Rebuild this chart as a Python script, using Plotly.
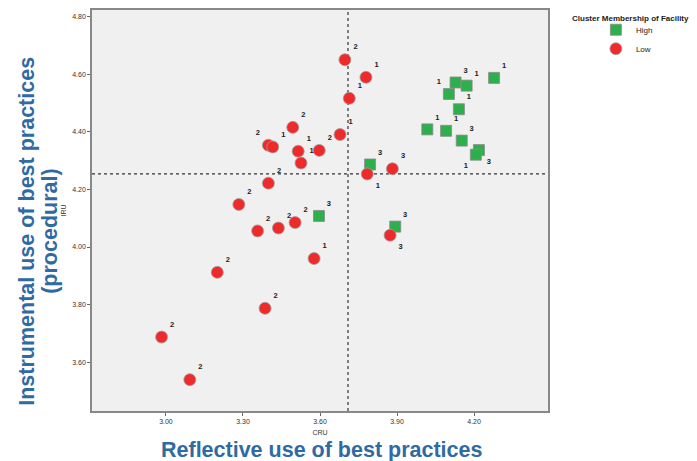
import plotly.graph_objects as go

# High cluster (green squares)
high_cru = [3.795, 3.596, 3.893, 4.278, 4.128, 4.171, 4.102, 4.141, 4.018, 4.091, 4.152, 4.219, 4.207]
high_iru = [4.287, 4.108, 4.071, 4.588, 4.572, 4.561, 4.532, 4.479, 4.409, 4.404, 4.370, 4.337, 4.321]
high_lbl = ["3", "3", "3", "1", "3", "1", "1", "1", "1", "1", "3", "3", "1"]

# Low cluster (red circles)
low_cru = [3.697, 3.779, 3.714, 3.678, 3.494, 3.399, 3.416, 3.515, 3.597, 3.526, 3.399, 3.284,
           3.357, 3.438, 3.503, 3.577, 3.200, 3.386, 2.983, 3.093, 3.784, 3.882, 3.873]
low_iru = [4.651, 4.590, 4.517, 4.391, 4.416, 4.354, 4.348, 4.333, 4.336, 4.292, 4.222, 4.148,
           4.056, 4.066, 4.085, 3.960, 3.912, 3.787, 3.687, 3.539, 4.254, 4.272, 4.041]
low_lbl = ["2", "1", "1", "1", "2", "2", "1", "1", "2", "1", "2", "2",
           "2", "2", "2", "1", "2", "2", "2", "2", "1", "3", "3"]

# reference lines (means)
cru_ref = 3.709
iru_ref = 4.254

x_ticks = [3.00, 3.30, 3.60, 3.90, 4.20]
y_ticks = [3.60, 3.80, 4.00, 4.20, 4.40, 4.60, 4.80]

# label placement (style)
high_pos = ["top right"] * 13
high_pos[6] = "top left"
high_pos[11] = "bottom right"
high_pos[12] = "bottom left"
low_pos = ["top right"] * 23
low_pos[5] = "top left"
low_pos[20] = "bottom right"
low_pos[22] = "bottom right"

FONT = "Liberation Sans, Arial"
lbl_font = dict(family=FONT, size=7.5, color="#222", weight=700)

fig = go.Figure()
fig.add_trace(go.Scatter(
    x=high_cru, y=high_iru, text=high_lbl, mode="markers+text", name="High",
    textposition=high_pos, textfont=lbl_font,
    marker=dict(symbol="square", size=11, color="#2DB04B", line=dict(color="#8a8a8a", width=0.8)),
))
fig.add_trace(go.Scatter(
    x=low_cru, y=low_iru, text=low_lbl, mode="markers+text", name="Low",
    textposition=low_pos, textfont=lbl_font,
    marker=dict(symbol="circle", size=12, color="#EE2A2A", line=dict(color="#a0a0a0", width=0.8)),
))

fig.add_shape(type="line", xref="x", yref="paper", x0=cru_ref, x1=cru_ref, y0=0, y1=1,
              line=dict(color="#333", width=1.2, dash="dot"), layer="below")
fig.add_shape(type="line", xref="paper", yref="y", x0=0, x1=1, y0=iru_ref, y1=iru_ref,
              line=dict(color="#333", width=1.2, dash="dot"), layer="below")

tick_font = dict(family=FONT, size=7, color="#333")
fig.update_xaxes(range=[2.712, 4.488], tickvals=x_ticks, tickformat=".2f", tickfont=tick_font,
                 ticks="outside", ticklen=3, tickcolor="#666", showgrid=False, zeroline=False,
                 showline=True, linecolor="#888", linewidth=1.5, mirror=True,
                 title=dict(text="CRU", font=dict(family=FONT, size=7, color="#333"), standoff=6))
fig.update_yaxes(range=[3.430, 4.824], tickvals=y_ticks, tickformat=".2f", tickfont=tick_font,
                 ticks="outside", ticklen=3, tickcolor="#666", showgrid=False, zeroline=False,
                 showline=True, linecolor="#888", linewidth=1.5, mirror=True,
                 title=dict(text="IRU", font=dict(family=FONT, size=7, color="#333"), standoff=5))

title_font = dict(family=FONT, size=21.5, color="#2F6AA3")
fig.add_annotation(text="<b>Instrumental use of best practices</b>", xref="paper", yref="paper",
                   x=-0.1425, y=0.447, textangle=-90, showarrow=False, font=title_font,
                   xanchor="center", yanchor="middle")
fig.add_annotation(text="<b>(procedural)</b>", xref="paper", yref="paper",
                   x=-0.092, y=0.447, textangle=-90, showarrow=False, font=title_font,
                   xanchor="center", yanchor="middle")
fig.add_annotation(text="<b>Reflective use of best practices</b>", xref="paper", yref="paper",
                   x=0.503, y=-0.097, showarrow=False, font=title_font,
                   xanchor="center", yanchor="middle")
fig.add_annotation(text="<b>Cluster Membership of Facility</b>", xref="paper", yref="paper",
                   x=1.18, y=0.978, showarrow=False,
                   font=dict(family=FONT, size=8, color="#222"),
                   xanchor="center", yanchor="middle")

fig.update_layout(
    width=689, height=453,
    margin=dict(l=84, r=149, t=0, b=50),
    plot_bgcolor="#F0F0F0", paper_bgcolor="white",
    showlegend=True,
    legend=dict(x=1.105, xanchor="left", y=0.987, yanchor="top",
                font=dict(family=FONT, size=8, color="#222"),
                itemsizing="trace", tracegroupgap=0, bgcolor="rgba(0,0,0,0)"),
)

fig.write_html("out.html")
